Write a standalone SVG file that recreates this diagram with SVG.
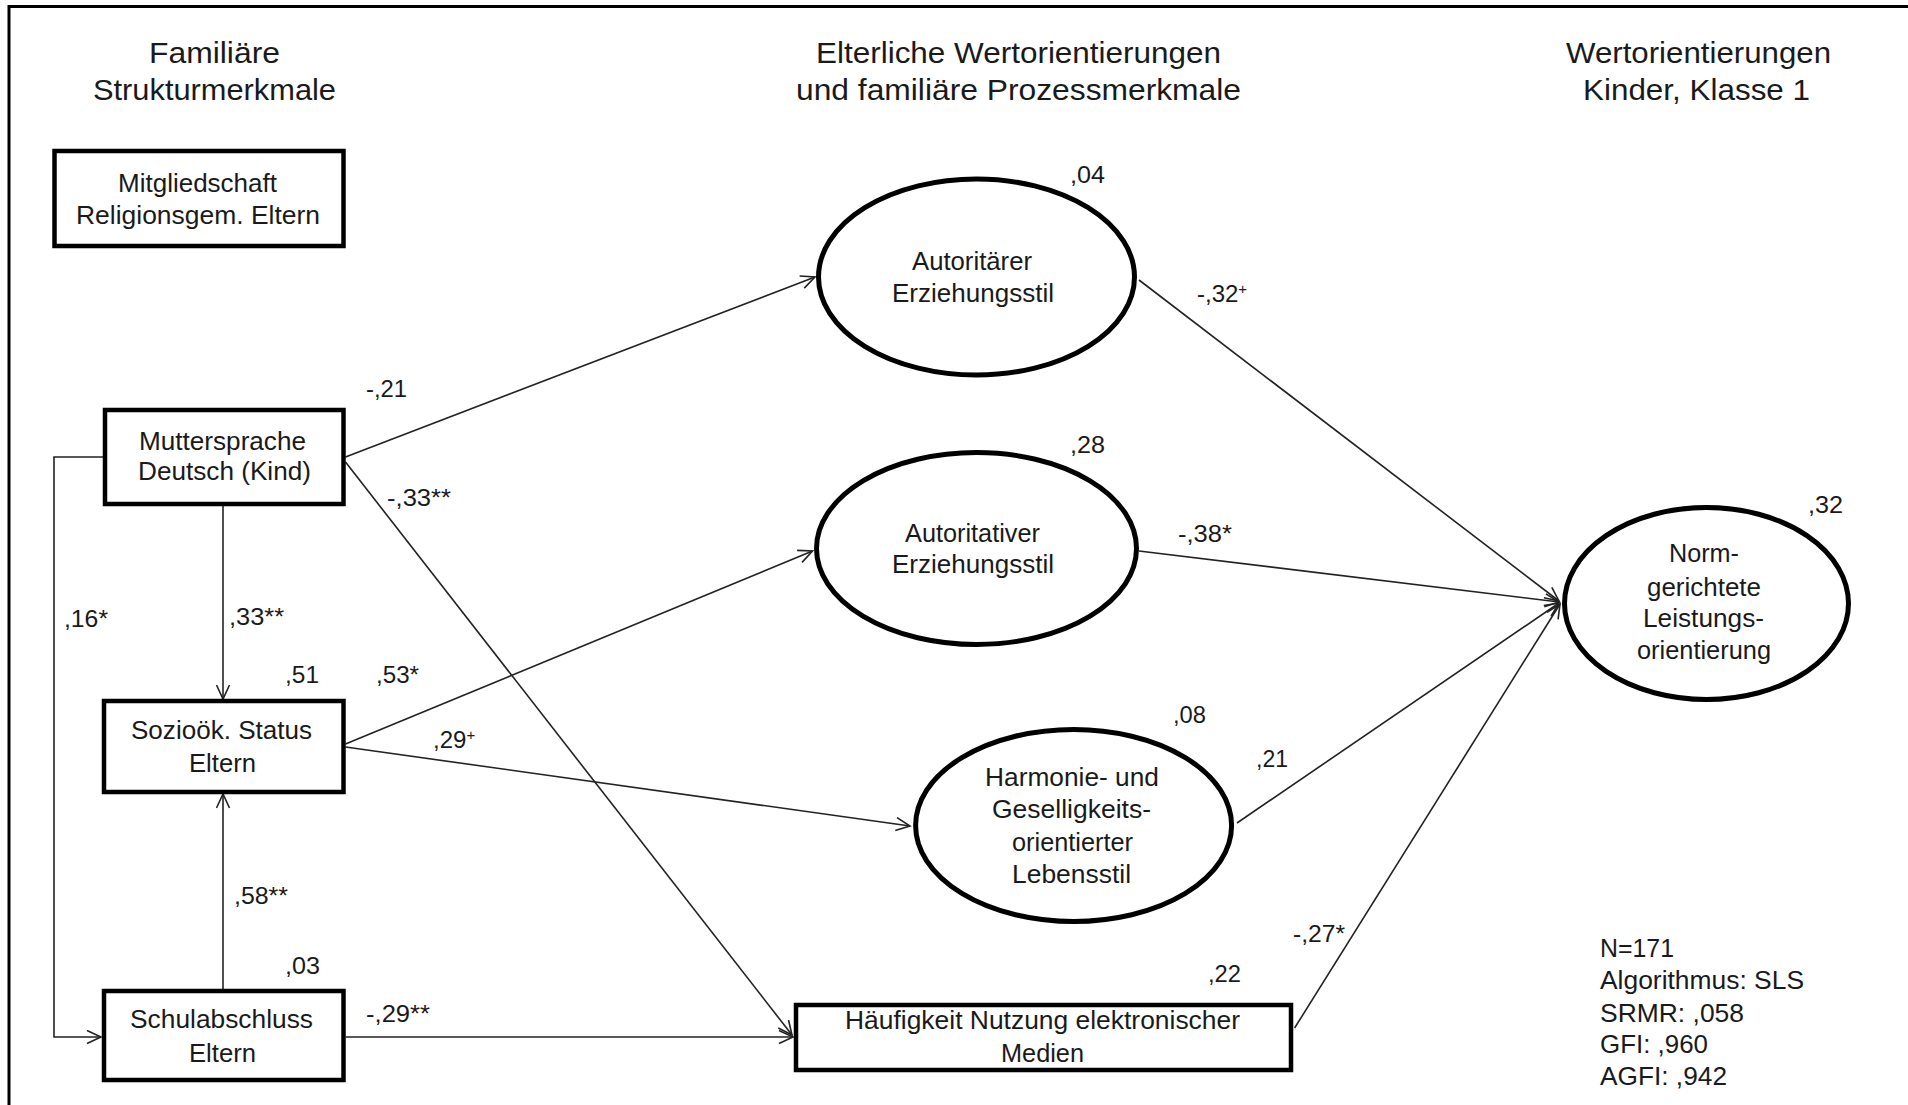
<svg xmlns="http://www.w3.org/2000/svg" width="1908" height="1105" viewBox="0 0 1908 1105">
<defs>
<marker id="arr" markerUnits="userSpaceOnUse" markerWidth="18" markerHeight="16" refX="15" refY="7.5" orient="auto">
<path d="M1,1 L15,7.5 L1,14" fill="none" stroke="#222" stroke-width="1.6"/>
</marker>
<style>
.r{font-family:"Liberation Sans",Arial,sans-serif;fill:#1a1a1a}
.lbl{font-size:26px}
.hd{font-size:30px}
.cf{font-size:24px}
.st{font-size:26px}
.box{fill:#fff;stroke:#000;stroke-width:4.5}
.ell{fill:#fff;stroke:#000;stroke-width:5}
.con{fill:none;stroke:#222;stroke-width:1.6}
.frame{fill:none;stroke:#000;stroke-width:3}
</style>
</defs>
<rect width="1908" height="1105" fill="#fff"/>
<path class="frame" d="M9,1105 L9,6.5 L1908,6.5"/>

<g id="headings">
<text class="r hd" x="149" y="63" textLength="131" lengthAdjust="spacingAndGlyphs">Familiäre</text>
<text class="r hd" x="93" y="100" textLength="243" lengthAdjust="spacingAndGlyphs">Strukturmerkmale</text>
<text class="r hd" x="816" y="63" textLength="405" lengthAdjust="spacingAndGlyphs">Elterliche Wertorientierungen</text>
<text class="r hd" x="796" y="100" textLength="445" lengthAdjust="spacingAndGlyphs">und familiäre Prozessmerkmale</text>
<text class="r hd" x="1566" y="63" textLength="265" lengthAdjust="spacingAndGlyphs">Wertorientierungen</text>
<text class="r hd" x="1583" y="100" textLength="227" lengthAdjust="spacingAndGlyphs">Kinder, Klasse 1</text>
</g>

<g id="connectors">
<line class="con" x1="345.5" y1="457" x2="815" y2="277" marker-end="url(#arr)"/>
<line class="con" x1="345.5" y1="462" x2="792" y2="1035" marker-end="url(#arr)"/>
<line class="con" x1="223" y1="506" x2="223" y2="699" marker-end="url(#arr)"/>
<line class="con" x1="223" y1="989" x2="223" y2="794" marker-end="url(#arr)"/>
<polyline class="con" points="103,457 54,457 54,1037 101,1037" marker-end="url(#arr)"/>
<line class="con" x1="345.5" y1="744" x2="812.5" y2="551" marker-end="url(#arr)"/>
<line class="con" x1="345.5" y1="747" x2="910" y2="826" marker-end="url(#arr)"/>
<line class="con" x1="345.5" y1="1037" x2="793" y2="1037" marker-end="url(#arr)"/>
<line class="con" x1="1139" y1="280" x2="1559" y2="601" marker-end="url(#arr)"/>
<line class="con" x1="1139" y1="551" x2="1559" y2="602" marker-end="url(#arr)"/>
<line class="con" x1="1237" y1="823" x2="1559" y2="603" marker-end="url(#arr)"/>
<line class="con" x1="1294.6" y1="1028" x2="1560" y2="604" marker-end="url(#arr)"/>
</g>

<g id="coefficients">
<text class="r cf" x="366" y="397" textLength="41" lengthAdjust="spacingAndGlyphs">-,21</text>
<text class="r cf" x="387" y="506" textLength="64" lengthAdjust="spacingAndGlyphs">-,33**</text>
<text class="r cf" x="64" y="627" textLength="44" lengthAdjust="spacingAndGlyphs">,16*</text>
<text class="r cf" x="229" y="625" textLength="55" lengthAdjust="spacingAndGlyphs">,33**</text>
<text class="r cf" x="285" y="683" textLength="34" lengthAdjust="spacingAndGlyphs">,51</text>
<text class="r cf" x="376" y="683" textLength="43" lengthAdjust="spacingAndGlyphs">,53*</text>
<text class="r cf" x="433" y="748">,29<tspan font-size="15" dy="-8">+</tspan></text>
<text class="r cf" x="234" y="904" textLength="54" lengthAdjust="spacingAndGlyphs">,58**</text>
<text class="r cf" x="285" y="974" textLength="35" lengthAdjust="spacingAndGlyphs">,03</text>
<text class="r cf" x="366" y="1022" textLength="64" lengthAdjust="spacingAndGlyphs">-,29**</text>
<text class="r cf" x="1070" y="183" textLength="35" lengthAdjust="spacingAndGlyphs">,04</text>
<text class="r cf" x="1197" y="302">-,32<tspan font-size="15" dy="-8">+</tspan></text>
<text class="r cf" x="1070" y="453" textLength="35" lengthAdjust="spacingAndGlyphs">,28</text>
<text class="r cf" x="1178" y="542" textLength="54" lengthAdjust="spacingAndGlyphs">-,38*</text>
<text class="r cf" x="1173" y="723" textLength="33" lengthAdjust="spacingAndGlyphs">,08</text>
<text class="r cf" x="1256" y="767" textLength="32" lengthAdjust="spacingAndGlyphs">,21</text>
<text class="r cf" x="1208" y="982" textLength="33" lengthAdjust="spacingAndGlyphs">,22</text>
<text class="r cf" x="1293" y="942" textLength="52" lengthAdjust="spacingAndGlyphs">-,27*</text>
<text class="r cf" x="1808" y="513" textLength="35" lengthAdjust="spacingAndGlyphs">,32</text>
</g>

<g id="node-mitgliedschaft">
<rect class="box" x="54.5" y="151" width="289" height="95"/>
<text class="r lbl" x="118" y="192" textLength="159" lengthAdjust="spacingAndGlyphs">Mitgliedschaft</text>
<text class="r lbl" x="76" y="224" textLength="244" lengthAdjust="spacingAndGlyphs">Religionsgem.  Eltern</text>
</g>

<g id="node-muttersprache">
<rect class="box" x="105" y="410" width="238.5" height="94"/>
<text class="r lbl" x="139" y="450" textLength="167" lengthAdjust="spacingAndGlyphs">Muttersprache</text>
<text class="r lbl" x="138" y="480" textLength="173" lengthAdjust="spacingAndGlyphs">Deutsch (Kind)</text>
</g>

<g id="node-soziooek">
<rect class="box" x="104" y="701" width="239.5" height="91"/>
<text class="r lbl" x="131" y="739" textLength="181" lengthAdjust="spacingAndGlyphs">Sozioök. Status</text>
<text class="r lbl" x="189" y="772" textLength="67" lengthAdjust="spacingAndGlyphs">Eltern</text>
</g>

<g id="node-schulabschluss">
<rect class="box" x="104" y="991" width="239.5" height="89"/>
<text class="r lbl" x="130" y="1028" textLength="183" lengthAdjust="spacingAndGlyphs">Schulabschluss</text>
<text class="r lbl" x="189" y="1062" textLength="67" lengthAdjust="spacingAndGlyphs">Eltern</text>
</g>

<g id="node-autoritaer">
<ellipse class="ell" cx="976.5" cy="277" rx="158" ry="98"/>
<text class="r lbl" x="912" y="270" textLength="120" lengthAdjust="spacingAndGlyphs">Autoritärer</text>
<text class="r lbl" x="892" y="302" textLength="162" lengthAdjust="spacingAndGlyphs">Erziehungsstil</text>
</g>

<g id="node-autoritativ">
<ellipse class="ell" cx="976.5" cy="548.5" rx="160" ry="96"/>
<text class="r lbl" x="905" y="542" textLength="135" lengthAdjust="spacingAndGlyphs">Autoritativer</text>
<text class="r lbl" x="892" y="573" textLength="162" lengthAdjust="spacingAndGlyphs">Erziehungsstil</text>
</g>

<g id="node-harmonie">
<ellipse class="ell" cx="1073.6" cy="825.5" rx="158" ry="96"/>
<text class="r lbl" x="985" y="786" textLength="174" lengthAdjust="spacingAndGlyphs">Harmonie-  und</text>
<text class="r lbl" x="992" y="818" textLength="159" lengthAdjust="spacingAndGlyphs">Geselligkeits-</text>
<text class="r lbl" x="1012" y="851" textLength="121" lengthAdjust="spacingAndGlyphs">orientierter</text>
<text class="r lbl" x="1012" y="883" textLength="119" lengthAdjust="spacingAndGlyphs">Lebensstil</text>
</g>

<g id="node-medien">
<rect class="box" x="796" y="1005" width="495" height="65"/>
<text class="r lbl" x="845" y="1029" textLength="395" lengthAdjust="spacingAndGlyphs">Häufigkeit  Nutzung elektronischer</text>
<text class="r lbl" x="1001" y="1062" textLength="83" lengthAdjust="spacingAndGlyphs">Medien</text>
</g>

<g id="node-norm">
<ellipse class="ell" cx="1706.5" cy="603.5" rx="142" ry="96"/>
<text class="r lbl" x="1669" y="562" textLength="70" lengthAdjust="spacingAndGlyphs">Norm-</text>
<text class="r lbl" x="1647" y="596" textLength="114" lengthAdjust="spacingAndGlyphs">gerichtete</text>
<text class="r lbl" x="1643" y="627" textLength="121" lengthAdjust="spacingAndGlyphs">Leistungs-</text>
<text class="r lbl" x="1637" y="659" textLength="134" lengthAdjust="spacingAndGlyphs">orientierung</text>
</g>

<g id="fit-stats">
<text class="r st" x="1600" y="957" textLength="74" lengthAdjust="spacingAndGlyphs">N=171</text>
<text class="r st" x="1600" y="989" textLength="204" lengthAdjust="spacingAndGlyphs">Algorithmus: SLS</text>
<text class="r st" x="1600" y="1022" textLength="144" lengthAdjust="spacingAndGlyphs">SRMR:  ,058</text>
<text class="r st" x="1600" y="1053" textLength="108" lengthAdjust="spacingAndGlyphs">GFI:  ,960</text>
<text class="r st" x="1600" y="1085" textLength="127" lengthAdjust="spacingAndGlyphs">AGFI:  ,942</text>
</g>
</svg>
